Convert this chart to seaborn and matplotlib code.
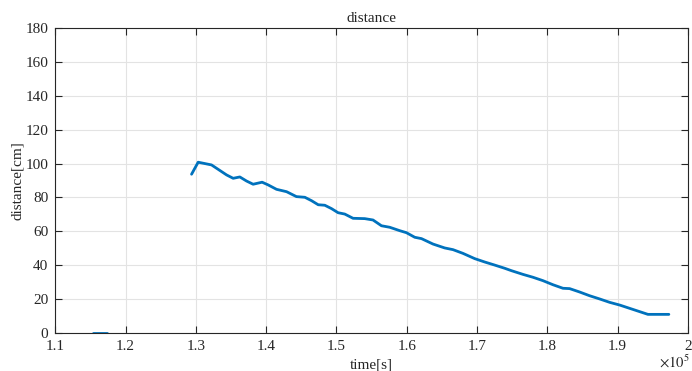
import numpy as np
import pandas as pd
import matplotlib
matplotlib.use("Agg")
import matplotlib.pyplot as plt
import seaborn as sns

########## data (time in s, distance in cm) ##########
time_short = [115300, 117300]
dist_short = [0.0, 0.0]

time_main = [129380, 130320, 132220, 134360, 135300, 136250, 137200, 138140,
             139420, 140280, 141470, 142900, 144300, 145500, 146450, 147400,
             148340, 149300, 150230, 151180, 152360, 154030, 155200, 156400,
             157580, 159000, 159960, 161140, 162100, 163740, 165400, 166580,
             168000, 169670, 171100, 172510, 173940, 174890, 176540, 177960,
             179380, 180800, 182230, 183180, 184600, 186020, 187450, 188870,
             190300, 194320, 197300]
dist_main = [93.7, 100.8, 99.2, 93.3, 91.3, 92.1, 89.7, 87.8,
             89.0, 87.4, 84.8, 83.4, 80.5, 80.1, 78.1, 75.7,
             75.4, 73.4, 71.0, 70.2, 67.7, 67.5, 66.7, 63.3,
             62.4, 60.4, 59.2, 56.5, 55.7, 52.5, 50.2, 49.2,
             47.0, 43.9, 41.9, 40.1, 38.2, 36.8, 34.6, 32.9,
             30.9, 28.5, 26.4, 26.2, 24.2, 22.0, 20.1, 18.1,
             16.5, 11.0, 11.0]

xticks = np.arange(110000, 200001, 10000)
xtick_labels = ['1.1', '1.2', '1.3', '1.4', '1.5', '1.6', '1.7', '1.8', '1.9', '2']
yticks = np.arange(0, 181, 20)

############ style ##############
sns.set_theme(style="whitegrid")
plt.rcParams['font.family'] = ['Liberation Serif', 'DejaVu Serif']
plt.rcParams['mathtext.fontset'] = 'stix'

line_color = '#0072BD'

fig = plt.figure(figsize=(6.92, 3.71), dpi=100)
ax = fig.add_axes([0.080, 0.1024, 0.914, 0.8221])

df_short = pd.DataFrame({'t': time_short, 'd': dist_short})
df_main = pd.DataFrame({'t': time_main, 'd': dist_main})
sns.lineplot(data=df_short, x='t', y='d', ax=ax, color=line_color,
             linewidth=2.0, sort=False, estimator=None)
sns.lineplot(data=df_main, x='t', y='d', ax=ax, color=line_color,
             linewidth=2.0, sort=False, estimator=None)

ax.set_xlim(110000, 200000)
ax.set_ylim(0, 180)
ax.set_xticks(xticks)
ax.set_xticklabels(xtick_labels)
ax.set_yticks(yticks)

ax.set_facecolor('white')
ax.grid(True, color='#e3e3e3', linewidth=0.8)
for s in ax.spines.values():
    s.set_visible(True)
    s.set_color('#262626')
    s.set_linewidth(0.8)

ax.tick_params(axis='both', which='both', direction='in', length=5, width=0.8,
               color='#262626', labelcolor='#262626', labelsize=11,
               top=True, right=True, bottom=True, left=True, pad=5)

ax.set_title('distance', fontsize=11, color='#262626', pad=4)
ax.set_xlabel('time[s]', fontsize=11, color='#262626', labelpad=4)
ax.set_ylabel('distance[cm]', fontsize=11, color='#262626', labelpad=1)

# exponent note under the x axis, like MATLAB
fig.text(0.997, 0.0, r'$\times 10^{5}$', ha='right', va='bottom',
         fontsize=10.5, color='#262626')

fig.savefig('out.png', dpi=100)
